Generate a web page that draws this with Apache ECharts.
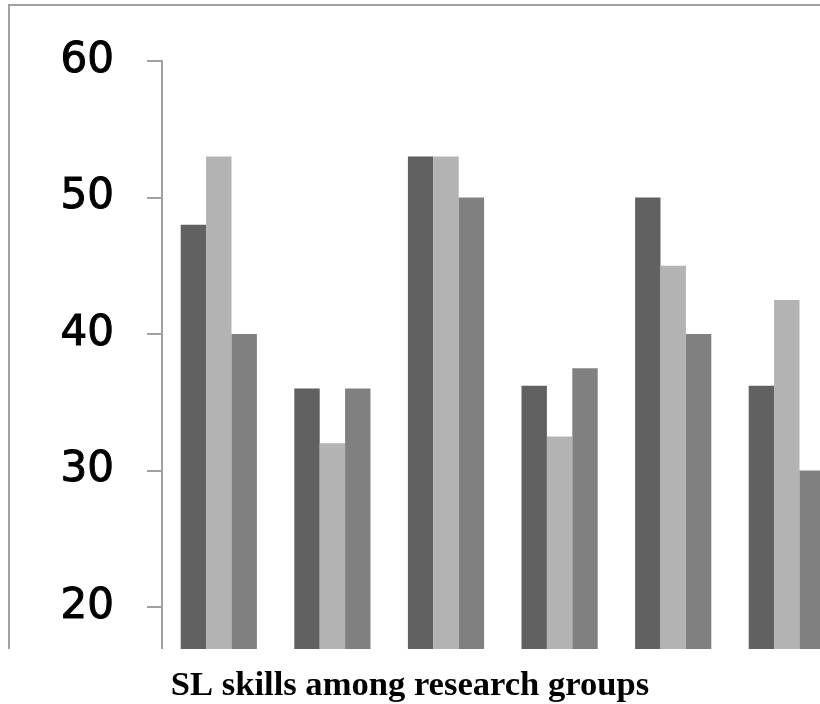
<!DOCTYPE html>
<html>
<head>
<meta charset="utf-8">
<title>SL skills among research groups</title>
<script src="https://cdn.jsdelivr.net/npm/echarts@6/dist/echarts.min.js"></script>
<style>
  html, body { margin: 0; padding: 0; background: #ffffff; }
  #chart { width: 820px; height: 704px; }
</style>
</head>
<body>
<div id="chart"></div>
<script>
// Skill categories along the x axis
const categories = ['Skill 1', 'Skill 2', 'Skill 3', 'Skill 4', 'Skill 5', 'Skill 6'];

// Scores for the three research groups
const groupA = [48, 36, 53, 36.2, 50, 36.2];
const groupB = [53, 32, 53, 32.5, 45, 42.5];
const groupC = [40, 36, 50, 37.5, 40, 30];

// Value-axis ticks
const yTicks = [0, 10, 20, 30, 40, 50, 60];

const seriesNames = ['Group A', 'Group B', 'Group C'];
const seriesColors = ['#616161', '#b3b3b3', '#808080'];

const chart = echarts.init(document.getElementById('chart'), null, { renderer: 'canvas' });

const makeBar = (name, data, color) => ({
  name: name,
  type: 'bar',
  data: data,
  barWidth: 25.4,
  barGap: '0%',
  itemStyle: { color: color },
  z: 2
});

chart.setOption({
  animation: false,
  backgroundColor: '#ffffff',
  // plot runs past the right and bottom edges; the lower part is covered by the caption strip
  grid: {
    left: 162, top: 61, width: 681.6, height: 819,
    containLabel: false,
    outerBoundsMode: 'none'
  },
  xAxis: {
    type: 'category',
    data: categories,
    axisLine: { show: false },
    axisTick: { show: false },
    axisLabel: { show: false }
  },
  yAxis: {
    type: 'value',
    min: yTicks[0],
    max: yTicks[yTicks.length - 1],
    interval: yTicks[1] - yTicks[0],
    splitLine: { show: false },
    axisLine: { show: true, lineStyle: { color: '#a0a0a0', width: 2 } },
    axisTick: { show: true, length: 15, lineStyle: { color: '#a0a0a0', width: 2 } },
    axisLabel: {
      margin: 48,
      color: '#000000',
      fontFamily: 'DejaVu Sans',
      fontSize: 42,
      textBorderColor: '#000000',
      textBorderWidth: 1
    }
  },
  series: [
    makeBar(seriesNames[0], groupA, seriesColors[0]),
    makeBar(seriesNames[1], groupB, seriesColors[1]),
    makeBar(seriesNames[2], groupC, seriesColors[2])
  ],
  graphic: [
    // chart-area frame
    {
      type: 'rect',
      shape: { x: 9, y: 5, width: 900, height: 800 },
      style: { fill: null, stroke: '#a0a0a0', lineWidth: 2 },
      z: 10,
      silent: true
    },
    // caption strip below the plot
    {
      type: 'rect',
      shape: { x: 0, y: 649, width: 820, height: 60 },
      style: { fill: '#ffffff' },
      z: 20,
      silent: true
    },
    {
      type: 'text',
      x: 410,
      y: 686,
      style: {
        text: 'SL skills among research groups',
        fill: '#000000',
        font: 'bold 34.6px "Liberation Serif", "Times New Roman", serif',
        align: 'center',
        verticalAlign: 'middle'
      },
      z: 21,
      silent: true
    }
  ]
});
</script>
</body>
</html>
